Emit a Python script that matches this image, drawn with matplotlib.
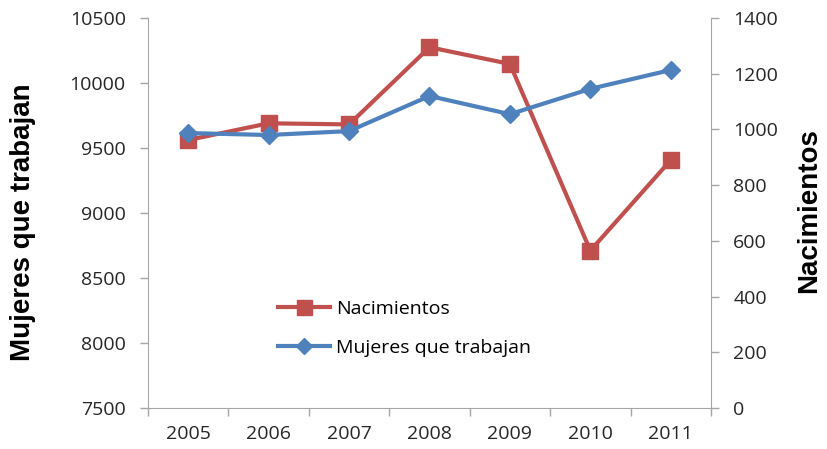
import numpy as np
import matplotlib.pyplot as plt

# Datos
years = ['2005', '2006', '2007', '2008', '2009', '2010', '2011']
mujeres = [9615, 9600, 9630, 9900, 9760, 9955, 10100]
nacimientos = [962, 1022, 1018, 1295, 1235, 565, 890]

red = '#C0504D'
blue = '#4F81BD'
gray = '#A6A6A6'
tick_font = 'Open Sans'

fig = plt.figure(figsize=(8.28, 4.49), dpi=100)
ax = fig.add_axes([148 / 828, 41 / 449, 563 / 828, 390 / 449])
ax2 = ax.twinx()

x = np.arange(len(years))

# Mujeres que trabajan (eje izquierdo)
l_muj, = ax.plot(x, mujeres, color=blue, lw=3, marker='D', ms=9,
                 label='Mujeres que trabajan', zorder=3)
# Nacimientos (eje derecho)
l_nac, = ax2.plot(x, nacimientos, color=red, lw=3, marker='s', ms=12,
                  label='Nacimientos', zorder=2)
ax.set_zorder(ax2.get_zorder() + 1)
ax.patch.set_visible(False)

ax.set_xlim(-0.5, len(years) - 0.5)
ax.set_ylim(7500, 10500)
ax.set_yticks(np.arange(7500, 10501, 500))
ax2.set_ylim(0, 1400)
ax2.set_yticks(np.arange(0, 1401, 200))

# categorías entre marcas, estilo Excel
ax.set_xticks(np.arange(-0.5, len(years), 1))
ax.set_xticklabels([])
ax.set_xticks(x, minor=True)
ax.set_xticklabels(years, minor=True, fontsize=14, family=tick_font, color='#262626')
ax.tick_params(axis='x', which='major', length=6, color=gray, width=1)
ax.tick_params(axis='x', which='minor', length=0, pad=12)

ax.tick_params(axis='y', length=6, color=gray, width=1, labelsize=14, pad=10,
               labelcolor='#262626')
ax2.tick_params(axis='y', length=6, color=gray, width=1, labelsize=14, pad=10,
                labelcolor='#262626')
for t in ax.get_yticklabels() + ax2.get_yticklabels():
    t.set_family(tick_font)

for a in (ax, ax2):
    a.spines['top'].set_visible(False)
    for s in ('left', 'right', 'bottom'):
        a.spines[s].set_color(gray)
ax.spines['right'].set_visible(False)
ax2.spines['left'].set_visible(False)
ax2.spines['bottom'].set_visible(False)

ax.set_ylabel('Mujeres que trabajan', fontsize=20, fontweight='bold',
              family='Liberation Sans')
ax.yaxis.set_label_coords(-0.199, 0.477)
ax2.set_ylabel('Nacimientos', fontsize=20, fontweight='bold',
               family='Liberation Sans')
ax2.yaxis.set_label_coords(1.152, 0.505)

leg = ax.legend([l_nac, l_muj], ['Nacimientos', 'Mujeres que trabajan'],
                loc='center left', bbox_to_anchor=(0.217, 0.204), borderaxespad=0,
                frameon=False, prop={'family': tick_font, 'size': 14},
                handlelength=2.7, handletextpad=0.3, labelspacing=1.1)
for h in leg.legend_handles:
    h.set_markersize(h.get_markersize() * 0.9)

fig.savefig('out.png', dpi=100)
